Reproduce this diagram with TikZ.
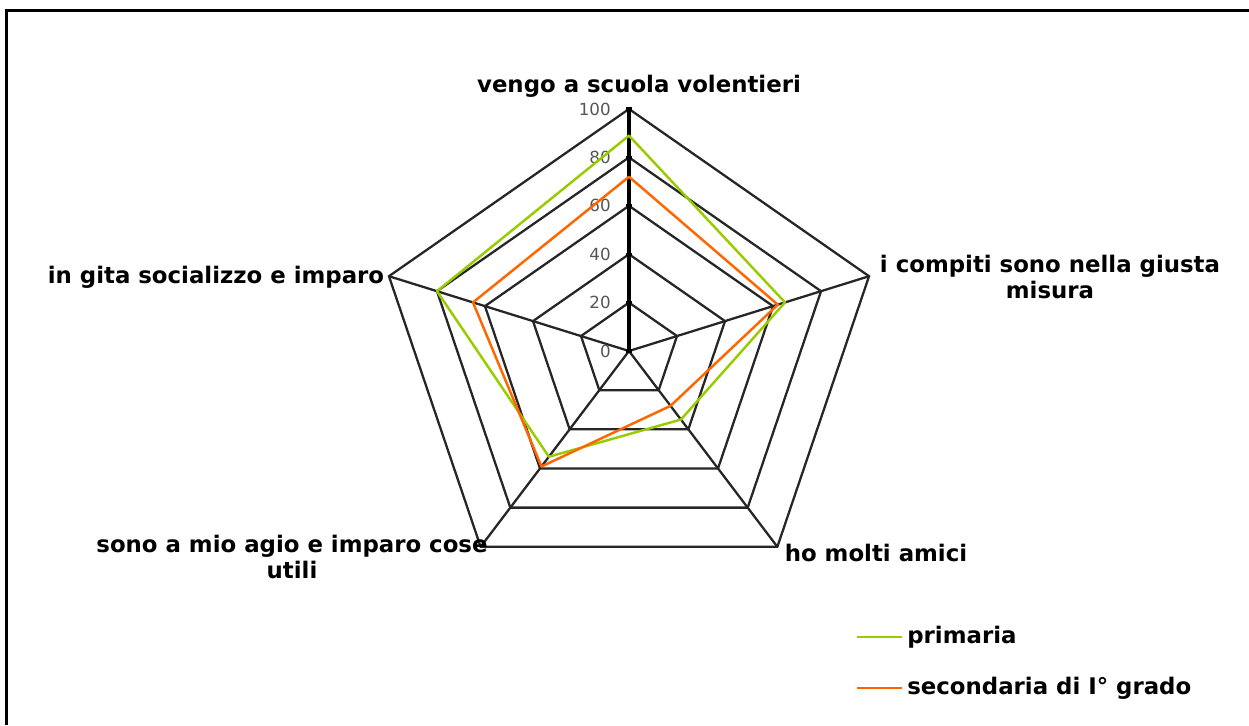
\documentclass[tikz,border=0pt]{standalone}
\usepackage{fontspec}
\setmainfont{DejaVu Sans}
\definecolor{primgreen}{RGB}{153,204,0}
\definecolor{secorange}{RGB}{255,102,0}
\definecolor{ticktext}{RGB}{85,85,85}

\begin{document}
\begin{tikzpicture}[
        x=0.02cm, y=-0.02cm,
        grid/.style={draw=black!85, line width=1.3pt},
        axis/.style={draw=black, line width=1.8pt},
        axlabel/.style={font=\bfseries\fontsize{13}{15}\selectfont, align=center, inner sep=0pt},
        val/.style={font=\fontsize{9.5}{11}\selectfont, text=ticktext, anchor=east, inner sep=0pt},
        prim/.style={draw=primgreen, line width=1.4pt, line join=round},
        sec/.style={draw=secorange, line width=1.4pt, line join=round},
    ]

    \useasboundingbox (0,0) rectangle (1249,725);
    \draw[line width=1.7pt] (6.5,725) -- (6.5,10.5) -- (1249,10.5);

    \coordinate (c) at (629,351);
    \foreach \i in {1,...,5} {
        \foreach \r in {20,40,60,80,100}
            \coordinate (p\i-\r) at ({629+2.524*\r*cos(162-72*\i)}, {351-2.42*\r*sin(162-72*\i)});
    }

    \foreach \r in {20,40,60,80,100}
        \draw[grid] (p1-\r) -- (p2-\r) -- (p3-\r) -- (p4-\r) -- (p5-\r) -- cycle;
    \foreach \i in {2,...,5}
        \draw[grid] (c) -- (p\i-100);
    \draw[axis] (c) -- (p1-100);

    \draw[axis] (c) ++(-3,0) -- ++(6,0);
    \node[val] at ([xshift=-0.36cm]c) {0};
    \foreach \r in {20,40,60,80,100} {
        \draw[axis] (p1-\r) ++(-3,0) -- ++(6,0);
        \node[val] at ([xshift=-0.36cm]p1-\r) {\r};
    }

    \foreach \v [count=\i] in {89,65,35,54,80}
        \coordinate (g\i) at ({629+2.524*\v*cos(162-72*\i)}, {351-2.42*\v*sin(162-72*\i)});
    \foreach \v [count=\i] in {72,62,28,59,65}
        \coordinate (s\i) at ({629+2.524*\v*cos(162-72*\i)}, {351-2.42*\v*sin(162-72*\i)});

    \draw[prim] (g1) -- (g2) -- (g3) -- (g4) -- (g5) -- cycle;
    \draw[sec] (s1) -- (s2) -- (s3) -- (s4) -- (s5) -- cycle;

    \node[axlabel] (vengo) at (639,86) {vengo a scuola volentieri};
    \node[axlabel] (compiti) at (1050,277) {i compiti sono nella giusta\\misura};
    \node[axlabel] (amici) at (876,553) {ho molti amici};
    \node[axlabel] (agio) at (292,557) {sono a mio agio e imparo cose\\utili};
    \node[axlabel] (gita) at (216,277) {in gita socializzo e imparo};

    \node[axlabel, anchor=west] (lprim) at (907,637) {primaria};
    \node[axlabel, anchor=west] (lsec) at (907,688) {secondaria di I° grado};
    \draw[prim] (lprim.west) ++(-50,0) coordinate (lp0) -- ++(45,0);
    \draw[sec] (lsec.west) ++(-50,0) coordinate (ls0) -- ++(45,0);
\end{tikzpicture}
\end{document}
